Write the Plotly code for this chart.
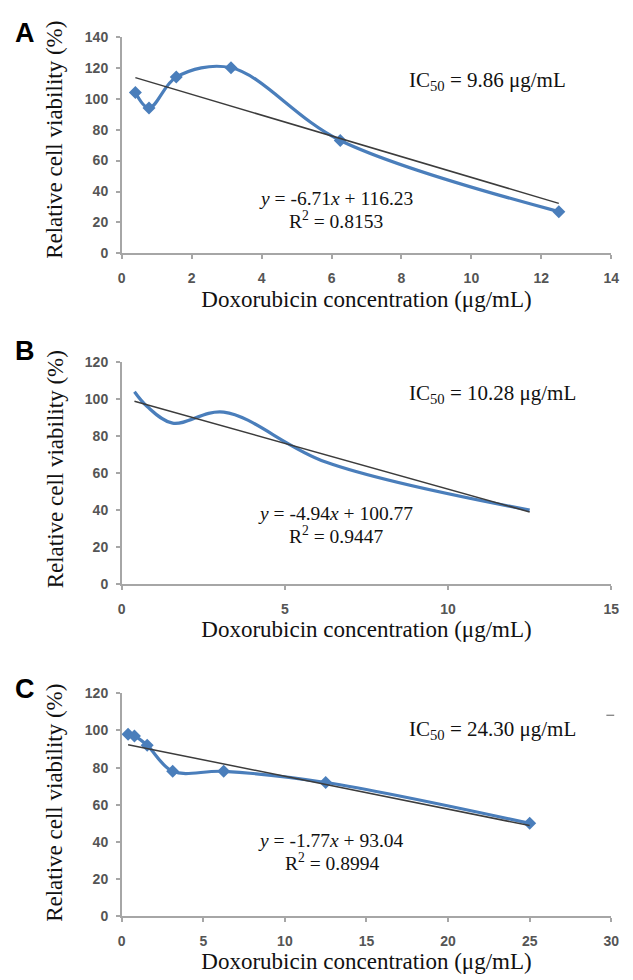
import plotly.graph_objects as go

# ---- data ----
conc_a = [0.39, 0.78, 1.56, 3.125, 6.25, 12.5]
via_a = [104, 94, 114, 120, 73, 27]
slope_a, icpt_a, r2_a, ic50_a = -6.71, 116.23, 0.8153, 9.86

conc_b = [0.39, 0.78, 1.56, 3.125, 6.25, 12.5]
via_b = [104, 96, 87, 93, 66, 40]
slope_b, icpt_b, r2_b, ic50_b = -4.94, 100.77, 0.9447, 10.28

conc_c = [0.39, 0.78, 1.56, 3.125, 6.25, 12.5, 25]
via_c = [98, 97, 92, 78, 78, 72, 50]
slope_c, icpt_c, r2_c, ic50_c = -1.77, 93.04, 0.8994, 24.30

panels = ["A", "B", "C"]
x_max = [14, 15, 30]
x_dtick = [2, 5, 5]
y_max = [140, 120, 120]
y_dtick = [20, 20, 20]

W, H = 633, 980
BLUE = "#4a7ebb"
SERIF = "Times New Roman, Liberation Serif, serif"

def px(p):
    return p / W

def py(p):
    return 1 - p / H

fig = go.Figure()

x_dom = [px(120), px(619)]
y_pix = [(29.3, 249.5), (360, 585.7), (696.7, 923.3)]
# annotation placement (pixel centres)
letter_y = [25, 349, 692]
ytitle_y = [134, 469, 808]
ic_pos = [(493, 74), (498, 392), (498, 734)]
eq_pos = [(338, 194), (338, 514), (333, 846)]
r2_pos = [(338, 216), (338, 536), (334, 868)]
xt_standoff = [6, 3, 3]

datasets = [
    (conc_a, via_a, slope_a, icpt_a, r2_a, ic50_a, True),
    (conc_b, via_b, slope_b, icpt_b, r2_b, ic50_b, False),
    (conc_c, via_c, slope_c, icpt_c, r2_c, ic50_c, True),
]

layout = {}
annotations = []
for i, (xs, ys, m, b, r2, ic, markers) in enumerate(datasets):
    n = i + 1
    xa = "x" if n == 1 else f"x{n}"
    ya = "y" if n == 1 else f"y{n}"
    fig.add_trace(go.Scatter(
        x=xs, y=ys, xaxis=xa, yaxis=ya,
        mode="lines+markers" if markers else "lines",
        line=dict(color=BLUE, width=3.2, shape="spline", smoothing=1.0),
        marker=dict(symbol="diamond", size=10, color=BLUE),
        showlegend=False, hoverinfo="skip"))
    tx = [min(xs), max(xs)]
    fig.add_trace(go.Scatter(
        x=tx, y=[m * v + b for v in tx], xaxis=xa, yaxis=ya,
        mode="lines", line=dict(color="#3c3c3c", width=1.5),
        showlegend=False, hoverinfo="skip"))
    top, bot = y_pix[i]
    axis_common = dict(
        showgrid=False, zeroline=False, showline=True, linecolor="#a6a6a6",
        linewidth=1.5, ticks="outside", ticklen=4, tickcolor="#a6a6a6",
        tickwidth=1.5,
        tickfont=dict(family="Arial", size=14, color="#555555", weight="bold"),
    )
    layout["xaxis" if n == 1 else f"xaxis{n}"] = dict(
        axis_common, domain=x_dom, range=[0, x_max[i]], dtick=x_dtick[i],
        anchor=ya, ticklabelstandoff=7,
        title=dict(text="Doxorubicin concentration (μg/mL)",
                   font=dict(family=SERIF, size=23, color="#111"),
                   standoff=xt_standoff[i]))
    layout["yaxis" if n == 1 else f"yaxis{n}"] = dict(
        axis_common, domain=[py(bot), py(top)], range=[0, y_max[i]],
        dtick=y_dtick[i], anchor=xa, ticklabelstandoff=5)
    annotations.append(dict(text="Relative cell viability (%)", xref="paper", yref="paper",
                            x=px(52), y=py(ytitle_y[i]), xanchor="center", yanchor="middle",
                            textangle=-90, showarrow=False,
                            font=dict(family=SERIF, size=23, color="#111")))
    annotations.append(dict(text=f"<b>{panels[i]}</b>", xref="paper", yref="paper",
                            x=px(21), y=py(letter_y[i]), xanchor="center", yanchor="middle",
                            showarrow=False,
                            font=dict(family="Arial", size=27, color="#000")))
    annotations.append(dict(text=f"IC<sub>50</sub> = {ic:.2f} μg/mL", xref="paper", yref="paper",
                            x=px(ic_pos[i][0]), y=py(ic_pos[i][1]),
                            xanchor="center", yanchor="middle",
                            showarrow=False, font=dict(family=SERIF, size=21, color="#111")))
    sign = "+" if b >= 0 else "-"
    annotations.append(dict(text=f"<i>y</i> = {m:.2f}<i>x</i> {sign} {abs(b):.2f}",
                            xref="paper", yref="paper",
                            x=px(eq_pos[i][0]), y=py(eq_pos[i][1]),
                            xanchor="center", yanchor="middle",
                            showarrow=False, font=dict(family=SERIF, size=19.5, color="#111")))
    annotations.append(dict(text=f"R<sup>2</sup> = {r2:.4f}",
                            xref="paper", yref="paper",
                            x=px(r2_pos[i][0]), y=py(r2_pos[i][1]),
                            xanchor="center", yanchor="middle",
                            showarrow=False, font=dict(family=SERIF, size=19.5, color="#111")))

fig.update_layout(
    width=W, height=H, margin=dict(l=0, r=0, t=0, b=0),
    paper_bgcolor="white", plot_bgcolor="white",
    annotations=annotations,
    shapes=[dict(type="line", xref="paper", yref="paper",
                 x0=px(614), x1=px(622), y0=py(719), y1=py(719),
                 line=dict(color="#777", width=1.2))],
    **layout)

fig.write_html(
    "out.html",
    config={"displayModeBar": False},
    post_script="document.body.style.margin='0';document.body.style.padding='0';"
                "document.documentElement.style.overflow='hidden';")
